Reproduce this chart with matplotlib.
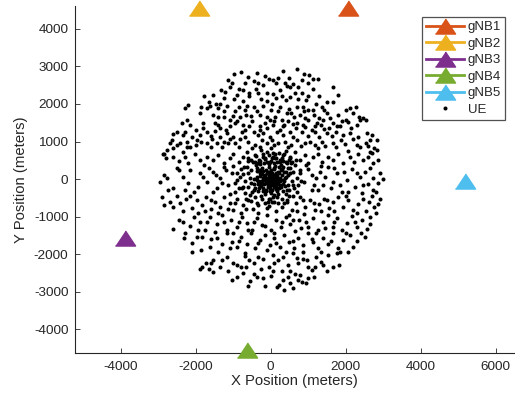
import numpy as np
import matplotlib
matplotlib.use("Agg")
import matplotlib.pyplot as plt

plt.rcParams['font.family'] = ['Liberation Sans', 'DejaVu Sans']
plt.rcParams['axes.unicode_minus'] = False

# base stations
gnb_names = ['gNB1', 'gNB2', 'gNB3', 'gNB4', 'gNB5']
gnb_x = [2070, -1910, -3885, -640, 5180]
gnb_y = [4550, 4550, -1565, -4560, -60]
gnb_colors = ['#D95319', '#EDB120', '#7E2F8E', '#77AC30', '#4DBEEE']

# user equipment positions (meters)
ue_outer = [
    (-970, 2800), (-800, 2850), (-360, 2820), (340, 2890), (690, 2930), (1030, 2780),
    (1270, 2660), (1120, 2660), (-1040, 2550), (-1080, 2440), (-840, 2390), (-600, 2710),
    (-460, 2600), (-330, 2550), (-200, 2500), (-40, 2660), (70, 2630), (200, 2700),
    (380, 2550), (440, 2480), (600, 2540), (840, 2630), (520, 2440), (740, 2440),
    (1650, 2440), (-1330, 2370), (-1220, 2330),
    (-1780, 2200), (-1660, 2060), (-1460, 2000), (-1350, 2000), (-980, 2120), (-750, 2090),
    (-570, 2200), (-270, 2140), (-110, 2090), (30, 2000), (290, 2200), (520, 2180),
    (740, 2120), (1000, 2210), (1210, 2000), (1650, 2060), (-2280, 1880), (-2200, 1970),
    (-1870, 1930), (-1710, 1880), (-1620, 1950), (-1400, 1880), (-1170, 1950), (-840, 1930),
    (-640, 1950), (-440, 1910), (-200, 1950), (250, 1910), (500, 1860), (690, 1910),
    (850, 1930), (1000, 1840), (1120, 1840), (1360, 1930), (1420, 1840), (2120, 1880),
    (2280, 1910), (2190, 1750), (-730, 2370), (-570, 2280), (-330, 2280), (70, 2270),
    (250, 2360), (830, 2300), (1140, 2390),
    (-2370, 1480), (-2240, 1570), (-2150, 1440), (-1810, 1500), (-1400, 1640), (-1260, 1660),
    (-1080, 1560), (-1000, 1680), (-820, 1660), (-660, 1710), (-530, 1680), (-370, 1800),
    (-110, 1660), (-20, 1570), (120, 1660), (290, 1570), (360, 1440), (430, 1750),
    (620, 1660), (780, 1710), (920, 1620), (1000, 1570), (1230, 1480), (1300, 1620),
    (1390, 1560), (1580, 1620), (1670, 1480), (2070, 1530), (2360, 1660), (2470, 1620),
    (2540, 1560), (2380, 1560), (-1480, 1480), (-1350, 1350), (-1100, 1400), (-950, 1480),
    (-750, 1440), (-570, 1400), (-280, 1400), (-150, 1480), (70, 1440), (320, 1400),
    (590, 1470), (680, 1350), (920, 1380), (1180, 1400), (1420, 1320), (1760, 1410),
    (2010, 1570), (1850, 1400),
    (-2510, 1260), (-2350, 1170), (-2280, 1260), (-2110, 1130), (-1880, 1170), (-1710, 1240),
    (-1480, 1290), (-1350, 1130), (-1170, 1220), (-1000, 1130), (-770, 1260), (-680, 1130),
    (-460, 1240), (-330, 1170), (-200, 1220), (-20, 1130), (160, 1260), (340, 1170),
    (520, 1260), (600, 1110), (830, 1240), (1000, 1150), (1180, 1260), (1300, 1130),
    (1490, 1220), (1630, 1150), (1940, 1170), (2120, 1220), (2340, 1130), (2560, 1220),
    (2690, 1170), (2830, 1040), (2650, 1040), (-2640, 1040), (-2420, 950), (-2240, 1000),
    (-2150, 860), (-1970, 1040), (-1710, 950), (-1570, 1060), (-1440, 950), (-1260, 1000),
    (-1080, 1080), (-950, 950), (-820, 1060), (-600, 1000), (-420, 910), (-240, 1040),
    (-110, 950), (30, 1040), (200, 950), (380, 1000), (530, 910), (690, 1040),
    (920, 950), (1050, 1000), (1180, 910), (1360, 1000), (1670, 950), (1870, 1040),
    (1980, 930), (2200, 1080), (2380, 860), (2540, 950), (2760, 820), (2840, 770),
    (-2600, 820), (-2860, 670), (-2770, 770), (-2350, 730), (-2240, 860),
    (-2880, 680), (-2790, 550), (-2600, 600), (-2460, 490), (-2280, 600), (-2200, 420),
    (-2020, 680), (-1880, 520), (-1710, 600), (-1530, 510), (-1400, 640), (-1260, 420),
    (-1080, 550), (-1000, 680), (-860, 460), (-730, 600), (-640, 730), (-530, 510),
    (-420, 640), (-330, 420), (-200, 600), (-110, 730), (-20, 460), (120, 680),
    (250, 520), (340, 640), (430, 420), (520, 600), (650, 730), (780, 510),
    (920, 640), (1000, 440), (1140, 600), (1270, 680), (1360, 460), (1540, 600),
    (1670, 510), (1800, 670), (1940, 420), (2120, 600), (2220, 460), (2340, 680),
    (2470, 510), (2600, 600), (2740, 420), (2870, 510), (2650, 730),
    (-2950, -70), (-2840, 110), (-2770, 20), (-2600, -250), (-2460, 240), (-2330, 60),
    (-2200, -100), (-2060, -340), (-1880, 150), (-1780, 370), (-1690, -70), (-1530, 200),
    (-1440, -250), (-1350, 20), (-1240, 330), (-1130, -160), (-1040, 150), (-950, -340),
    (-890, -30), (-800, 280), (-730, -200),
    (780, 150), (890, -70), (1000, 280), (1090, -290), (1210, 20), (1320, 200),
    (1400, -160), (1540, 330), (1670, -70), (1780, 150), (1890, -340), (2030, -30),
    (2160, 280), (2250, -200), (2380, 60), (2520, 200), (2600, -120), (2740, 20),
    (2870, -100), (3000, 0), (2920, 150), (2720, -290), (2430, -380),
    (-2910, -470), (-2860, -690), (-2680, -600), (-2600, -740), (-2420, -650), (-2260, -540),
    (-2110, -780), (-1970, -560), (-1840, -690), (-1720, -470), (-1600, -810), (-1480, -600),
    (-1350, -740), (-1240, -490), (-1100, -630), (-1000, -830), (-890, -540), (-730, -690),
    (-600, -560), (-480, -810), (-370, -650), (-240, -520), (-110, -780), (30, -600),
    (160, -470), (290, -740), (430, -560), (560, -830), (680, -650), (780, -490),
    (920, -740), (1050, -560), (1180, -830), (1300, -670), (1420, -520), (1560, -780),
    (1670, -600), (1800, -470), (1940, -740), (2070, -560), (2200, -830), (2340, -670),
    (2470, -520), (2630, -600), (2760, -740), (2920, -540), (2870, -670),
    (-2600, -1320), (-2330, -1140), (-2280, -1450), (-2060, -1000), (-1880, -1140), (-1750, -1360),
    (-1620, -1000), (-1440, -1200), (-1310, -960), (-1170, -1360), (-1070, -1090), (-910, -1270),
    (-770, -1000), (-640, -1180), (-510, -1360), (-370, -1050), (-240, -1230), (-110, -960),
    (0, -1360), (140, -1090), (270, -1270), (410, -1000), (520, -1200), (650, -1380),
    (760, -1090), (890, -920), (1000, -1270), (1140, -1050), (1270, -1360), (1390, -1140),
    (1540, -960), (1650, -1270), (1780, -1050), (1890, -1360), (2030, -1160), (2160, -990),
    (2290, -1270), (2430, -1090), (2560, -1340), (2650, -1000), (2520, -1540),
    (-2310, -1580), (-2110, -1940), (-1970, -1540), (-1840, -1540), (-1620, -1800), (-1440, -1560),
    (-1310, -1720), (-1170, -1450), (-1040, -1670), (-910, -1800), (-800, -1540), (-640, -1720),
    (-530, -1450), (-420, -1850), (-280, -1630), (-150, -1490), (-20, -1760), (90, -1580),
    (250, -1800), (360, -1490), (500, -1670), (620, -1850), (740, -1560), (870, -1760),
    (1000, -1450), (1140, -1670), (1270, -1850), (1390, -1560), (1540, -1720), (1670, -1450),
    (1800, -1850), (1940, -1630), (2120, -1490), (2200, -1820), (2070, -1940),
    (-1840, -2340), (-1720, -2250), (-1660, -2410), (-1530, -2160), (-1350, -2340), (-1170, -2070),
    (-1010, -2250), (-910, -2290), (-800, -2340), (-680, -1980), (-570, -2160), (-460, -2250),
    (-330, -2070), (-200, -2120), (-60, -2340), (70, -2030), (200, -2160), (340, -2070),
    (470, -2290), (600, -1980), (740, -2250), (870, -2120), (980, -2160), (1090, -2430),
    (1210, -2070), (1330, -2200), (1510, -2450), (1670, -2340), (1830, -2290), (1540, -2030),
    (1760, -1980), (1180, -2340),
    (-1880, -2410), (-1040, -2680), (-730, -2500), (-460, -2520), (-370, -2600), (-150, -2850),
    (0, -2590), (160, -2870), (230, -2830), (360, -2960), (520, -2780), (650, -2520),
    (740, -2690), (830, -2740), (940, -2760), (1000, -2650), (780, -2560), (340, -2690),
    (50, -2440), (520, -2440), (-550, -2710), (-1530, -2470),
]

# extra points filling the ring between the core and the edge
ue_ring = [
    (-2500, 300), (-2300, -300), (-2150, 250), (-1950, -200), (-1800, 50), (-1650, 300),
    (-1550, -350), (-1450, 100), (-1300, -100), (-1200, 250), (-1100, -400), (-1000, 350),
    (-900, 150), (-850, -250), (-950, -100),
    (1100, 120), (1250, -300), (1350, 350), (1450, 50), (1600, -250), (1700, 300),
    (1850, -150), (1950, 200), (2050, -350), (2300, 150), (2450, -150), (2650, 300),
    (2800, -350), (1150, -150), (950, 380),
    (-2000, 1300), (-1800, 1350), (-1600, 1150), (-1400, 1450), (-1200, 1300), (-900, 1550),
    (-700, 1300), (-500, 1550), (-300, 1300), (-100, 1350), (100, 1550), (250, 1300),
    (450, 1550), (700, 1500), (850, 1450), (1100, 1300), (1350, 1450), (1550, 1350),
    (1750, 1250), (1900, 1550), (2150, 1350), (2300, 1450),
    (-1900, 1750), (-1550, 1700), (-1250, 1800), (-950, 1800), (-700, 1850), (-300, 1700),
    (0, 1850), (200, 1800), (550, 1750), (900, 1800), (1150, 1700), (1500, 1750),
    (1800, 1700), (2000, 1850),
    (-1550, 2250), (-1250, 2150), (-900, 2250), (-400, 2400), (-100, 2300), (150, 2150),
    (400, 2100), (650, 2300), (950, 2100), (1300, 2200), (1500, 2050), (1800, 2250),
    (-1150, 2650), (-700, 2550), (-150, 2750), (150, 2550), (500, 2700), (900, 2800),
    (1000, 2550),
    (-2600, 1200), (-2700, 950), (-2500, 900), (-2000, 900), (-1850, 1000), (-1600, 850),
    (-1300, 850), (-1150, 950), (-850, 850), (-300, 850), (100, 900), (450, 850),
    (800, 870), (1250, 820), (1450, 880), (1750, 850), (2050, 750), (2300, 900),
    (2600, 880), (2700, 700),
    (-2750, -300), (-2500, -450), (-2350, -850), (-2150, -450), (-1950, -900), (-1750, -850),
    (-1600, -550), (-1400, -900), (-1150, -800), (-950, -650), (-800, -900), (-650, -800),
    (-350, -900), (-150, -650), (150, -850), (350, -650), (500, -950), (700, -850),
    (850, -550), (1150, -650), (1350, -850), (1500, -550), (1700, -850), (2000, -450),
    (2300, -900), (2550, -850), (2700, -450), (2800, -900),
    (-2450, -1100), (-2150, -1250), (-1950, -1350), (-1700, -1150), (-1500, -1400), (-1250, -1150),
    (-1000, -1450), (-850, -1150), (-600, -1350), (-450, -1150), (-150, -1250), (100, -1450),
    (300, -1150), (600, -1100), (800, -1300), (950, -1150), (1200, -1450), (1450, -1300),
    (1700, -1150), (2000, -1450), (2250, -1150), (2400, -1450), (2650, -1200),
    (-2100, -1700), (-1850, -1900), (-1600, -1600), (-1400, -1950), (-1100, -1850), (-850, -1650),
    (-700, -2050), (-350, -1700), (-100, -1900), (150, -1700), (400, -1950), (600, -1650),
    (850, -1950), (1100, -1600), (1350, -1950), (1600, -1650), (1850, -1950), (2300, -1650),
    (-1600, -2250), (-1300, -2150), (-1150, -2450), (-650, -2350), (-250, -2400), (100, -2250),
    (300, -2450), (700, -2100), (1000, -2350), (1400, -2300), (-900, -2600), (-200, -2650),
    (450, -2600), (1150, -2600), (-600, -2850), (600, -2900),
]

ue_core = [
    (-300, 480), (-150, 540), (50, 590), (180, 450), (300, 560), (-420, 450), (-60, 650),
    (220, 700), (-250, 780), (0, 820), (400, 760), (-500, 820), (110, 560), (-180, 420),
    (340, 470), (480, 500), (560, 450), (-600, 560),
    (0, 0), (60, 40), (-50, 80), (120, -30), (-100, -60), (30, 150), (-150, 120), (180, 90),
    (200, -120), (-80, -160), (90, -200), (-200, 30), (250, 20), (-30, -90), (140, 170),
    (-170, -120), (40, -280), (-260, -40), (300, 120), (-120, 240), (80, 260), (-300, 160),
    (280, -220), (-220, -240), (350, -40), (-350, -130), (160, -320), (-60, 320), (20, -380),
    (-380, 60), (400, 200), (-240, 300), (220, 330), (330, -330), (-330, -320), (450, -150),
    (-450, 0), (100, 420), (-160, -400), (420, 60), (-10, 60), (70, -70), (-90, 10),
    (110, 60), (-40, -30), (150, -100), (-130, 40), (40, 110), (-70, 190), (190, -40),
    (-190, -20), (10, -160), (100, -130), (-110, 150), (230, 150), (-250, -150), (50, -40),
    (-20, 200), (130, -260), (-140, -290), (260, -60), (-290, 90), (310, 260), (-310, -240),
    (380, -180), (-380, 220), (460, 110), (-460, -120), (0, 470), (60, -470), (-400, 380),
    (400, -400), (500, -300), (-520, 250), (520, 300), (-500, -350), (250, 450), (-270, -460),
    (560, -60), (-560, 40), (600, 180), (-600, -200), (150, 560), (-150, 560), (300, -520),
    (-320, 520), (620, -250), (-640, 320), (700, 20), (-700, -60), (80, -620), (-80, -600),
    (420, 450), (-430, -470), (660, 380), (-680, -380), (200, -650), (-220, 680), (740, -150),
    (-740, 130), (-50, -520), (120, 360), (-330, -60), (340, 330), (-10, -240), (230, -230),
    (-200, 210), (270, 240), (-240, 130), (160, 20), (-70, -210), (90, 300), (-120, -330),
    (330, -130), (-40, 410), (190, -390), (-290, -190), (370, 30), (-380, -30), (480, -450),
    (-480, 450), (550, 420), (-560, -420), (440, -600), (-400, 620), (600, -450), (-620, 480),
    (700, -350), (-720, 330), (60, 700), (-60, -720), (780, 250), (-760, -250), (350, 680),
    (-350, -680), (520, 560), (-520, -580), (820, -40), (-820, 50), (680, 520), (-660, -520),
    (30, -20), (-20, 30), (80, 100), (-110, -110), (150, -180), (-170, 60), (200, 200),
    (-230, -80), (60, -130), (-60, 130), (120, 110), (-140, -40), (250, -150), (-280, 230),
    (320, -20), (-300, -100), (20, 250), (-10, -320), (180, -260), (-200, -330), (350, 180),
    (-360, 300), (430, -280), (-420, -250), (520, 150), (-540, -100), (280, 380), (-280, 400),
    (100, -420), (-90, 450), (600, -150), (-600, 150), (450, 300), (-450, -300), (40, 560),
    (-30, -540),
]

ue = np.array(ue_outer + ue_ring + ue_core)

ink = '#262626'

fig = plt.figure(figsize=(5.15, 3.98), dpi=100)
ax = fig.add_axes([0.145, 0.1123, 0.855, 0.8726])

tri = [(-1, -0.75), (1, -0.75), (0, 0.75)]
for name, x, y, c in zip(gnb_names, gnb_x, gnb_y, gnb_colors):
    ax.plot([x], [y], marker=tri, markersize=14.5, color=c, linewidth=2,
            linestyle='-', label=name, clip_on=False, zorder=5)

ax.plot(ue[:, 0], ue[:, 1], 'o', color='black', markersize=2.9,
        markeredgewidth=0, label='UE', zorder=3)

ax.set_xlim(-5230, 6515)
ax.set_ylim(-4648, 4613)
ax.set_xticks([-4000, -2000, 0, 2000, 4000, 6000])
ax.set_yticks(range(-4000, 4001, 1000))

for s in ['top', 'right']:
    ax.spines[s].set_visible(False)
for s in ['left', 'bottom']:
    ax.spines[s].set_color(ink)
    ax.spines[s].set_linewidth(0.8)

ax.tick_params(direction='in', length=3.5, width=0.6, colors=ink,
               labelsize=9.7, labelcolor=ink)
ax.tick_params(axis='x', pad=5.5)
ax.tick_params(axis='y', pad=4.5)

ax.set_xlabel('X Position (meters)', fontsize=10.7, color=ink, labelpad=1)
ax.set_ylabel('Y Position (meters)', fontsize=10.7, color=ink, labelpad=4)

leg = ax.legend(loc='upper left', bbox_to_anchor=(421.7 / 515, 1 - 17.3 / 398),
                bbox_transform=fig.transFigure, fontsize=9.5, frameon=True,
                fancybox=False, handlelength=2.9, handletextpad=0.3,
                labelspacing=0.32, borderpad=0.3, borderaxespad=0)
leg.get_frame().set_edgecolor(ink)
leg.get_frame().set_linewidth(0.9)
for t in leg.get_texts():
    t.set_color(ink)

fig.savefig('out.png', dpi=100)
